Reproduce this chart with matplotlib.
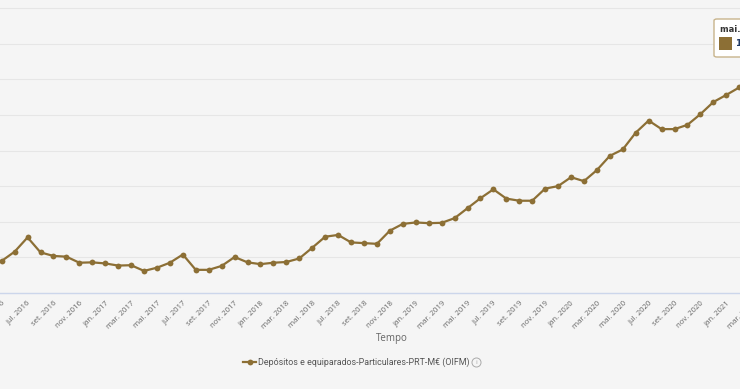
import numpy as np
import matplotlib
matplotlib.use('Agg')
from matplotlib import pyplot as plt
from matplotlib.lines import Line2D
from matplotlib.patches import FancyBboxPatch, Rectangle

# months shown, mai. 2016 .. fev. 2021
meses = ['jan.', 'fev.', 'mar.', 'abr.', 'mai.', 'jun.',
         'jul.', 'ago.', 'set.', 'out.', 'nov.', 'dez.']
periodos = ['{} {}'.format(meses[(4 + i) % 12], 2016 + (4 + i) // 12) for i in range(59)]

# Depositos e equiparados - Particulares (M EUR)
depositos = [134500, 135800, 137800, 135700, 135200, 135100, 134250, 134300,
             134150, 133850, 133900, 133100, 133550, 134250, 135400, 133250,
             133250, 133800, 135050, 134300, 134050, 134250, 134350, 134850,
             136350, 137900, 138150, 137100, 137000, 136900, 138750, 139700,
             139900, 139800, 139850, 140500, 141900, 143300, 144550, 143250,
             142950, 142950, 144650, 145000, 146250, 145700, 147250, 149250,
             150150, 152500, 154200, 153000, 153000, 153600, 155100, 156800,
             157800, 158850]

serie_nome = 'Depósitos e equiparados-Particulares-PRT-M€ (OIFM)'
cor = '#8c6f35'
W, H = 740, 389

fig = plt.figure(figsize=(W / 100, H / 100), dpi=100)
fig.patch.set_facecolor('#f5f5f5')

ax = fig.add_axes([0, (H - 293) / H, 1, 293 / H])
ax.set_facecolor('#f5f5f5')

x = np.arange(len(depositos))
ax.plot(x, depositos, color=cor, lw=1.6, marker='o', ms=4.2,
        markeredgewidth=0, zorder=3)

ax.set_xlim(-0.131, 57.06)
ax.set_ylim(130000, 130000 + 293 * 5000 / 35.625)
ax.set_yticks(np.arange(130000, 171000, 5000))
ax.set_yticklabels([])
ax.tick_params(axis='y', length=0)
ax.grid(axis='y', color='#e6e6e6', lw=0.8)
ax.set_axisbelow(True)

tick_kw = dict(rotation=45, ha='right', va='top', rotation_mode='anchor',
               fontsize=5.6, color='#666666', family='Open Sans')
ax.set_xticks(x[::2])
ax.set_xticklabels(periodos[:len(x):2], **tick_kw)
ax.tick_params(axis='x', length=0, pad=5)

# next category label sits just past the right edge, only partly visible
ax.annotate(periodos[58], xy=(58, 0), xycoords=('data', 'axes fraction'),
            xytext=(0, -5), textcoords='offset points', annotation_clip=False,
            **tick_kw)

for s in ['top', 'left', 'right']:
    ax.spines[s].set_visible(False)
ax.spines['bottom'].set_color('#ccd6eb')
ax.spines['bottom'].set_linewidth(1)

fig.text(392 / W, 1 - 339 / H, 'Tempo', ha='center', va='center',
         fontsize=7, color='#666666', family='Open Sans')

# legend at the bottom
ly = 1 - 362 / H
fig.add_artist(Line2D([243 / W, 256 / W], [ly, ly], color=cor, lw=1.6,
                      transform=fig.transFigure))
fig.add_artist(Line2D([249.5 / W], [ly], color=cor, marker='o', ms=4.2,
                      markeredgewidth=0, transform=fig.transFigure))
fig.text(258 / W, ly, serie_nome, ha='left', va='center', fontsize=6.4,
         color='#555555', family=['Roboto', 'DejaVu Sans'])
# info icon: small ring with an i
fig.add_artist(Line2D([476 / W], [ly], marker='o', ms=6.5, mfc='none',
                      mec='#aaaaaa', mew=0.7, transform=fig.transFigure))
fig.text(476 / W, ly, 'i', ha='center', va='center', fontsize=4.5,
         color='#aaaaaa', family='DejaVu Sans')

# tooltip, cut by the right edge
tip = FancyBboxPatch((714 / W, 1 - 57 / H), 60 / W, 38 / H,
                     boxstyle='round,pad=0,rounding_size=0.004',
                     transform=fig.transFigure, facecolor='white',
                     edgecolor='#c8b48c', lw=1, zorder=5)
fig.add_artist(tip)
fig.text(720 / W, 1 - 30 / H, 'mai. 2021', ha='left', va='center',
         fontsize=6, fontweight='bold', color='#333333', zorder=6)
fig.add_artist(Rectangle((719 / W, 1 - 50 / H), 13 / W, 13 / H,
                         transform=fig.transFigure, facecolor=cor,
                         edgecolor='none', zorder=6))
fig.text(735 / W, 1 - 43.5 / H, '160', ha='left', va='center',
         fontsize=6.5, fontweight='bold', color='#1f3864', zorder=6)

fig.savefig('out.png', dpi=100, facecolor=fig.get_facecolor())
